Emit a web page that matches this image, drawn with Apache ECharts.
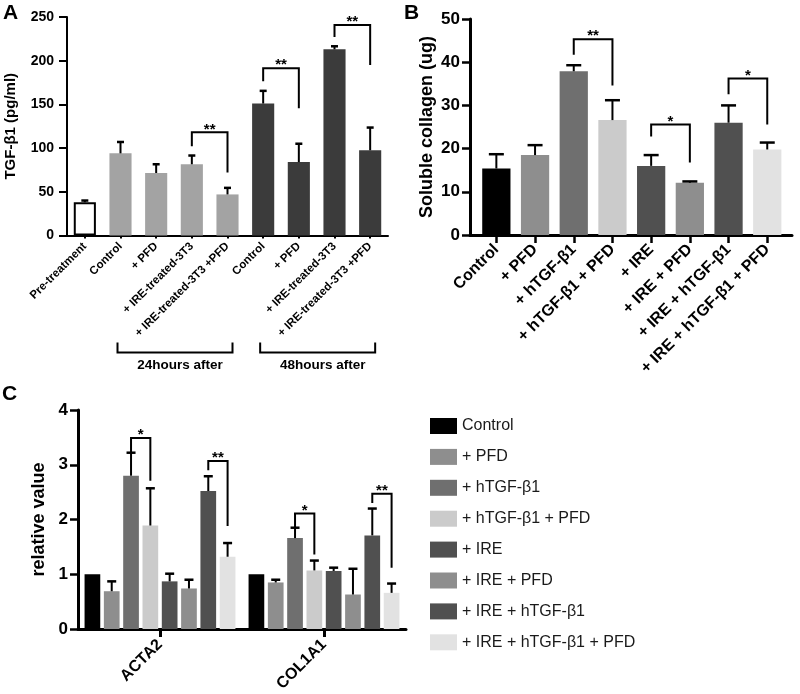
<!DOCTYPE html>
<html><head><meta charset="utf-8">
<script src="https://cdn.jsdelivr.net/npm/echarts@6/dist/echarts.min.js"></script>
<style>html,body{margin:0;padding:0;background:#fff}#c{width:800px;height:694px}</style>
</head><body><div id="c"></div>
<script>
// ---------- Panel A data ----------
const catsA = ['Pre-treatment','Control','+ PFD','+ IRE-treated-3T3','+ IRE-treated-3T3 +PFD','Control','+ PFD','+ IRE-treated-3T3','+ IRE-treated-3T3 +PFD'];
const valsA = [38, 94, 71.5, 81.5, 47, 151, 84, 213, 97.5];
const upA   = [40, 107, 81.5, 91.5, 54.5, 165.5, 105, 216.5, 123.5];
const ticksA = [0, 50, 100, 150, 200, 250];
const sigA = [[3,4,118,102,72],[5,6,191.5,176.6,145.6],[7,8,240.8,227,195]];
const sigLabA = ['**','**','**'];
const timeA = [[1,4],[5,8]];
const timeLabA = ['24hours after','48hours after'];
// ---------- Panel B data ----------
const catsB = ['Control','+ PFD','+ hTGF-β1','+ hTGF-β1 + PFD','+ IRE','+ IRE + PFD','+ IRE + hTGF-β1','+ IRE + hTGF-β1 + PFD'];
const valsB = [15.4, 18.5, 37.9, 26.6, 16.0, 12.1, 26.0, 19.8];
const upB   = [18.7, 20.8, 39.3, 31.2, 18.5, 12.4, 30.0, 21.4];
const ticksB = [0, 10, 20, 30, 40, 50];
const sigB = [[2,3,45.3,41.7,34.6],[4,5,25.6,22.8,16.8],[6,7,36.2,32.6,25.6]];
const sigLabB = ['**','*','*'];
// ---------- Panel C data ----------
const catsC = ['ACTA2','COL1A1'];
const groupsC = ['Control','+ PFD','+ hTGF-β1','+ hTGF-β1 + PFD','+ IRE','+ IRE + PFD','+ IRE + hTGF-β1','+ IRE + hTGF-β1 + PFD'];
const acta2 = [1.0, 0.69, 2.80, 1.89, 0.87, 0.74, 2.52, 1.32];
const acta2Up = [null, 0.87, 3.22, 2.57, 1.01, 0.90, 2.79, 1.57];
const col1a1 = [1.0, 0.85, 1.66, 1.07, 1.06, 0.63, 1.71, 0.66];
const col1a1Up = [null, 0.90, 1.85, 1.25, 1.12, 1.10, 2.20, 0.83];
const ticksC = [0, 1, 2, 3, 4];
const sigC = [[0,2,3,3.49,3.22,2.71],[0,6,7,3.07,2.90,1.88],[1,2,3,2.11,1.85,1.36],[1,6,7,2.47,2.30,1.12]];
const sigLabC = ['*','**','*','**'];

// ---------- styles ----------
const FA = '"Liberation Sans", Arial, sans-serif';
const FB = '"Liberation Sans", Arial, sans-serif';
const colorsA = ['#ffffff','#a3a3a3','#a3a3a3','#a3a3a3','#a3a3a3','#3b3b3b','#3b3b3b','#3b3b3b','#3b3b3b'];
const colorsC = ['#000000','#8e8e8e','#6f6f6f','#cbcbcb','#505050','#8e8e8e','#505050','#e2e2e2'];
const C_CATGAP = 0.08, C_BARGAP = 0.23;

const chart = echarts.init(document.getElementById('c'), null, {renderer:'canvas', width:800, height:694});

function errRender(capW){
  return function(params, api){
    const x = api.value(0);
    const p0 = api.coord([x, api.value(1)]);
    const p1 = api.coord([x, api.value(2)]);
    return {type:'group', children:[
      {type:'line', shape:{x1:p0[0],y1:p0[1],x2:p1[0],y2:p1[1]}, style:{stroke:'#000',lineWidth:2}},
      {type:'line', shape:{x1:p1[0]-capW/2,y1:p1[1],x2:p1[0]+capW/2,y2:p1[1]}, style:{stroke:'#000',lineWidth:2.5}}
    ]};
  };
}
function bracketShape(xl, xr, yh, yl, yr, label, font){
  return {type:'group', children:[
    {type:'polyline', shape:{points:[[xl,yl],[xl,yh],[xr,yh],[xr,yr]]}, style:{stroke:'#000', lineWidth:2, fill:null}},
    {type:'text', style:{text:label, x:(xl+xr)/2, y:yh-3, align:'center', verticalAlign:'middle', font:font, fill:'#000'}}
  ]};
}
function sigRender(labels, font){
  return function(params, api){
    const l = api.coord([api.value(0), api.value(3)]);
    const r = api.coord([api.value(1), api.value(4)]);
    const h = api.coord([api.value(0), api.value(2)]);
    return bracketShape(l[0], r[0], h[1], l[1], r[1], labels[params.dataIndex], font);
  };
}
function groupOffset(api, g){
  const W = api.size([1,0])[0];
  const avail = W*(1-C_CATGAP);
  const n = groupsC.length;
  const bw = avail/(n+(n-1)*C_BARGAP);
  const sum = n*bw*(1+C_BARGAP) - bw*C_BARGAP;
  return -sum/2 + g*bw*(1+C_BARGAP) + bw/2;
}

const errC = [];
groupsC.forEach((g, gi) => {
  if (acta2Up[gi] != null) errC.push([0, gi, acta2[gi], acta2Up[gi]]);
  if (col1a1Up[gi] != null) errC.push([1, gi, col1a1[gi], col1a1Up[gi]]);
});

const axisBase = (w) => ({lineStyle:{color:'#000', width:w}});

const option = {
  animation:false,
  backgroundColor:'#fff',
  title:[
    {text:'A', left:3, top:3, padding:0, textStyle:{fontFamily:FB, fontWeight:'bold', fontSize:21, color:'#000'}},
    {text:'B', left:404, top:3, padding:0, textStyle:{fontFamily:FB, fontWeight:'bold', fontSize:21, color:'#000'}},
    {text:'C', left:2, top:384, padding:0, textStyle:{fontFamily:FB, fontWeight:'bold', fontSize:21, color:'#000'}}
  ],
  legend:{
    data:groupsC, orient:'vertical', left:425, top:413, itemWidth:27, itemHeight:16, itemGap:14.9,
    icon:'rect', selectedMode:false,
    textStyle:{fontFamily:FB, fontSize:16, color:'#1a1a1a'}
  },
  grid:[
    {left:67, top:17, width:321, height:218.5, outerBoundsMode:'none'},
    {left:477, top:19, width:309.6, height:216, outerBoundsMode:'none'},
    {left:470, top:19, width:322, height:216, outerBoundsMode:'none'},
    {left:78, top:410, width:328, height:219, outerBoundsMode:'none'}
  ],
  xAxis:[
    {gridIndex:0, type:'category', data:catsA, axisLine:axisBase(2),
     axisTick:{show:true, alignWithLabel:true, length:3, lineStyle:{width:2, color:'#000'}},
     axisLabel:{interval:0, rotate:45, margin:9, fontFamily:FA, fontWeight:'bold', fontSize:11.5, color:'#000', hideOverlap:false}},
    {gridIndex:1, type:'category', data:catsB, axisLine:{show:false},
     axisTick:{show:true, alignWithLabel:true, length:8, lineStyle:{width:2.5, color:'#000'}},
     axisLabel:{interval:0, rotate:45, margin:12, fontFamily:FB, fontWeight:'bold', fontSize:16, color:'#000', hideOverlap:false}},
    {gridIndex:2, type:'value', min:0, max:1, axisLine:axisBase(3), axisTick:{show:false}, axisLabel:{show:false}, splitLine:{show:false}},
    {gridIndex:3, type:'category', data:catsC, axisLine:axisBase(3),
     axisTick:{show:true, alignWithLabel:true, length:8, lineStyle:{width:3, color:'#000'}},
     axisLabel:{interval:0, rotate:45, margin:13, fontFamily:FB, fontWeight:'bold', fontSize:16, color:'#000'}}
  ],
  yAxis:[
    {gridIndex:0, type:'value', min:ticksA[0], max:ticksA[ticksA.length-1], interval:ticksA[1]-ticksA[0],
     axisLine:{show:true, lineStyle:{color:'#000', width:2}}, axisTick:{show:true, length:8, lineStyle:{width:2, color:'#000'}},
     splitLine:{show:false},
     axisLabel:{margin:13, fontFamily:FA, fontWeight:'bold', fontSize:14, color:'#000'},
     name:'TGF-β1 (pg/ml)', nameLocation:'middle', nameGap:49,
     nameTextStyle:{fontFamily:FA, fontWeight:'bold', fontSize:15, color:'#000'}},
    {gridIndex:1, type:'value', min:ticksB[0], max:ticksB[ticksB.length-1], interval:ticksB[1]-ticksB[0], offset:7,
     axisLine:{show:true, lineStyle:{color:'#000', width:3}}, axisTick:{show:true, length:8, lineStyle:{width:2.5, color:'#000'}},
     splitLine:{show:false},
     axisLabel:{margin:10, fontFamily:FB, fontWeight:'bold', fontSize:17, color:'#000'},
     name:'Soluble collagen (ug)', nameLocation:'middle', nameGap:34,
     nameTextStyle:{fontFamily:FB, fontWeight:'bold', fontSize:18, color:'#000'}},
    {gridIndex:2, type:'value', show:false},
    {gridIndex:3, type:'value', min:ticksC[0], max:ticksC[ticksC.length-1], interval:ticksC[1]-ticksC[0],
     axisLine:{show:true, lineStyle:{color:'#000', width:3}}, axisTick:{show:true, length:8, lineStyle:{width:2.5, color:'#000'}},
     splitLine:{show:false},
     axisLabel:{margin:10, fontFamily:FB, fontWeight:'bold', fontSize:17, color:'#000'},
     name:'relative value', nameLocation:'middle', nameGap:30,
     nameTextStyle:{fontFamily:FB, fontWeight:'bold', fontSize:18, color:'#000'}}
  ],
  series:[]
};

// Panel A
option.series.push({type:'bar', name:'A', xAxisIndex:0, yAxisIndex:0, barWidth:'62%',
  data: valsA.map((v,i) => ({value:v, itemStyle: i===0 ? {color:colorsA[i], borderColor:'#000', borderWidth:2} : {color:colorsA[i]}}))});
option.series.push({type:'custom', name:'errA', xAxisIndex:0, yAxisIndex:0, renderItem:errRender(7),
  data: valsA.map((v,i) => [i, v, upA[i]]), z:3});
option.series.push({type:'custom', name:'sigA', xAxisIndex:0, yAxisIndex:0, renderItem:sigRender(sigLabA, 'bold 15px ' + FA),
  data: sigA, z:3});
option.series.push({type:'custom', name:'timeA', xAxisIndex:0, yAxisIndex:0, z:3,
  data: timeA,
  renderItem:function(params, api){
    const cs = params.coordSys;
    const bottom = cs.y + cs.height;
    const xl = api.coord([api.value(0), 0])[0] - 3;
    const xr = api.coord([api.value(1), 0])[0] + 5;
    return {type:'group', children:[
      {type:'polyline', shape:{points:[[xl,bottom+107],[xl,bottom+117],[xr,bottom+117],[xr,bottom+107]]}, style:{stroke:'#000', lineWidth:2, fill:null}},
      {type:'text', style:{text:timeLabA[params.dataIndex], x:(xl+xr)/2+5, y:bottom+130, align:'center', verticalAlign:'middle', font:'bold 13.5px ' + FA, fill:'#000'}}
    ]};
  }});

// Panel B
option.series.push({type:'bar', name:'B', xAxisIndex:1, yAxisIndex:1, barWidth:'73%',
  data: valsB.map((v,i) => ({value:v, itemStyle:{color:colorsC[i]}}))});
option.series.push({type:'custom', name:'errB', xAxisIndex:1, yAxisIndex:1, renderItem:errRender(15),
  data: valsB.map((v,i) => [i, v, upB[i]]), z:3});
option.series.push({type:'custom', name:'sigB', xAxisIndex:1, yAxisIndex:1, renderItem:sigRender(sigLabB, 'bold 15px ' + FB),
  data: sigB, z:3});

// Panel C
groupsC.forEach((g, gi) => {
  option.series.push({type:'bar', name:g, xAxisIndex:3, yAxisIndex:3,
    barGap:(C_BARGAP*100)+'%', barCategoryGap:(C_CATGAP*100)+'%',
    itemStyle:{color:colorsC[gi]}, data:[acta2[gi], col1a1[gi]]});
});
option.series.push({type:'custom', name:'errC', xAxisIndex:3, yAxisIndex:3, z:3, data:errC,
  renderItem:function(params, api){
    const off = groupOffset(api, api.value(1));
    const p0 = api.coord([api.value(0), api.value(2)]);
    const p1 = api.coord([api.value(0), api.value(3)]);
    const x = p0[0] + off;
    return {type:'group', children:[
      {type:'line', shape:{x1:x,y1:p0[1],x2:x,y2:p1[1]}, style:{stroke:'#000',lineWidth:2}},
      {type:'line', shape:{x1:x-4.5,y1:p1[1],x2:x+4.5,y2:p1[1]}, style:{stroke:'#000',lineWidth:2.5}}
    ]};
  }});
option.series.push({type:'custom', name:'sigC', xAxisIndex:3, yAxisIndex:3, z:3, data:sigC,
  renderItem:function(params, api){
    const c = api.value(0);
    const xl = api.coord([c, 0])[0] + groupOffset(api, api.value(1));
    const xr = api.coord([c, 0])[0] + groupOffset(api, api.value(2));
    const yh = api.coord([c, api.value(3)])[1];
    const yl = api.coord([c, api.value(4)])[1];
    const yr = api.coord([c, api.value(5)])[1];
    return bracketShape(xl, xr, yh, yl, yr, sigLabC[params.dataIndex], 'bold 15px ' + FB);
  }});

chart.setOption(option);
</script>
</body></html>
